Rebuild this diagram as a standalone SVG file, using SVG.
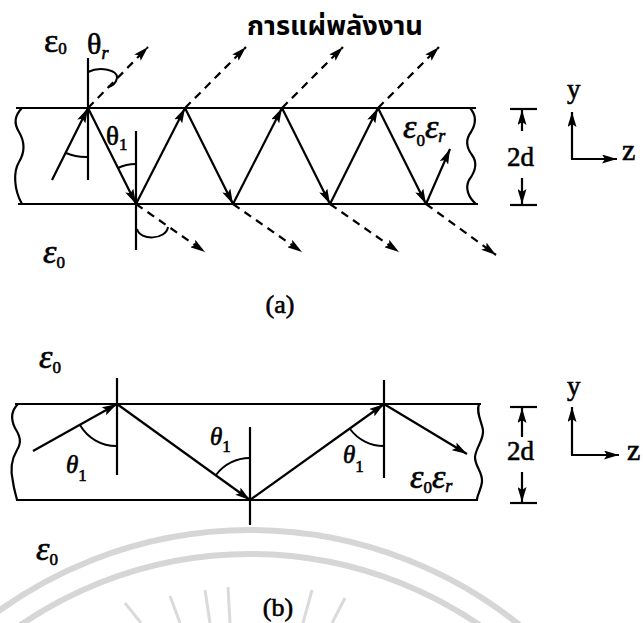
<svg xmlns="http://www.w3.org/2000/svg" width="643" height="623" viewBox="0 0 643 623">
<style>
.ln{stroke:#000;stroke-width:2.2;fill:none}
.ar{stroke:#000;stroke-width:2.2;fill:none;marker-end:url(#ah)}
.da{stroke:#000;stroke-width:2.2;fill:none;stroke-dasharray:8 6;marker-end:url(#ah)}
.arc{stroke:#000;stroke-width:2;fill:none}
.t{font-family:"Liberation Serif","Times New Roman",serif;fill:#000;stroke:#000;stroke-width:0.6}
.ti{font-family:"Liberation Serif","Times New Roman",serif;font-style:italic;fill:#000;stroke:#000;stroke-width:0.6}
.wm{stroke:#d6d6d6;fill:none}
</style>
<defs>
<marker id="ah" viewBox="0 0 15 9" refX="15" refY="4.5" markerWidth="15" markerHeight="9" orient="auto" markerUnits="userSpaceOnUse">
<path d="M0,0 L15,4.5 L0,9 L3,4.5 z" fill="#000"/>
</marker>
</defs>
<rect width="643" height="623" fill="#fff"/>
<g id="watermark">
<circle class="wm" cx="250" cy="960" r="430" stroke-width="6"/>
<circle class="wm" cx="250" cy="960" r="406" stroke-width="6"/>
<g stroke="#dadada" stroke-width="3">
<line x1="125" y1="603" x2="141" y2="623"/>
<line x1="170" y1="596" x2="180" y2="623"/>
<line x1="205" y1="590" x2="210" y2="623"/>
<line x1="228" y1="587" x2="230" y2="623"/>
<line x1="312" y1="590" x2="303" y2="623"/>
<line x1="345" y1="598" x2="332" y2="623"/>
</g>
</g>
<g id="slab-a">
<line class="ln" x1="16" y1="108" x2="476" y2="108"/>
<line class="ln" x1="18" y1="204" x2="478" y2="204"/>
<path class="ln" d="M22,108 C14,116 14,124 19,132 C25,142 25,152 19,162 C13,172 14,190 22,204"/>
<path class="ln" d="M470,108 C477,116 476,124 471,132 C465,140 466,147 472,155 C478,163 475,172 469,180 C465,188 468,197 476,204"/>
</g>
<g id="normals-a">
<line class="ln" x1="88" y1="58" x2="88" y2="180"/>
<line class="ln" x1="136" y1="131" x2="136" y2="250"/>
</g>
<g id="connectors-a">
<line class="ar" x1="52" y1="180" x2="88" y2="108"/>
<line class="ar" x1="88" y1="108" x2="136" y2="204"/>
<line class="ar" x1="136" y1="204" x2="185" y2="108"/>
<line class="ar" x1="185" y1="108" x2="233" y2="204"/>
<line class="ar" x1="233" y1="204" x2="282" y2="108"/>
<line class="ar" x1="282" y1="108" x2="330" y2="204"/>
<line class="ar" x1="330" y1="204" x2="378" y2="108"/>
<line class="ar" x1="378" y1="108" x2="426" y2="204"/>
<line class="ar" x1="426" y1="204" x2="450" y2="149"/>
<line class="da" x1="88" y1="108" x2="148" y2="47"/>
<line class="da" x1="185" y1="108" x2="246" y2="47"/>
<line class="da" x1="282" y1="108" x2="343" y2="47"/>
<line class="da" x1="378" y1="108" x2="439" y2="47"/>
<line class="da" x1="136" y1="204" x2="205" y2="252"/>
<line class="da" x1="233" y1="204" x2="302" y2="252"/>
<line class="da" x1="330" y1="204" x2="399" y2="252"/>
<line class="da" x1="426" y1="204" x2="496" y2="255"/>
</g>
<g id="angles-a">
<path class="arc" d="M88,72 C100,66 118,70 117,78 C116,83 112,86 108,87"/>
<path class="arc" d="M66,153 A50,50 0 0 0 88,157"/>
<path class="arc" d="M118,168 A40,40 0 0 1 136,164"/>
<path class="arc" d="M137,229 C140,241 166,240 168,227"/>
</g>
<g id="labels-a">
<text class="t" x="44" y="52" font-size="34">ε<tspan font-size="17" dy="2">0</tspan></text>
<text class="t" x="87" y="54" font-size="30">θ<tspan class="ti" font-size="18" dy="5">r</tspan></text>
<text class="t" x="106" y="145" font-size="27">θ<tspan font-size="17" dy="5">1</tspan></text>
<text class="ti" x="43" y="263" font-size="34">ε<tspan font-style="normal" font-size="17" dy="5">0</tspan></text>
<text class="ti" x="403" y="138" font-size="34">ε<tspan font-style="normal" font-size="17" dy="8">0</tspan><tspan dy="-8">ε</tspan><tspan font-size="18" dy="4">r</tspan></text>
<text x="247" y="35" font-family="'Noto Sans Thai','Noto Sans','DejaVu Sans',sans-serif" font-weight="bold" font-size="26" textLength="176" lengthAdjust="spacingAndGlyphs">การแผ่พลังงาน</text>
<text class="t" x="280" y="313" font-size="26" text-anchor="middle">(a)</text>
</g>
<g id="dim-a">
<line class="ln" x1="510" y1="109" x2="537" y2="109"/>
<line class="ln" x1="510" y1="205" x2="537" y2="205"/>
<line class="ar" x1="522" y1="131" x2="522" y2="110"/>
<line class="ar" x1="522" y1="178" x2="522" y2="204"/>
<text class="t" x="507" y="166" font-size="27">2d</text>
</g>
<g id="axes-a">
<line class="ar" x1="572" y1="159" x2="572" y2="112"/>
<line class="ar" x1="571" y1="159" x2="617" y2="159"/>
<text class="t" x="567" y="98" font-size="27">y</text>
<text class="t" x="622" y="160" font-size="30">z</text>
</g>
<g id="slab-b">
<line class="ln" x1="15" y1="404" x2="481" y2="404"/>
<line class="ln" x1="16" y1="500" x2="478" y2="500"/>
<path class="ln" d="M18,404 C10,412 11,420 15,428 C20,436 22,442 17,450 C11,460 10,470 13,482 C14,490 16,495 17,500"/>
<path class="ln" d="M479,404 C476,412 481,420 483,430 C484,440 476,447 475,457 C475,467 483,472 482,482 C481,490 477,495 477,500"/>
</g>
<g id="normals-b">
<line class="ln" x1="117" y1="378" x2="117" y2="475"/>
<line class="ln" x1="250" y1="427" x2="250" y2="525"/>
<line class="ln" x1="384" y1="380" x2="384" y2="478"/>
</g>
<g id="connectors-b">
<line class="ar" x1="33" y1="451" x2="117" y2="404"/>
<line class="ar" x1="117" y1="404" x2="250" y2="500"/>
<line class="ar" x1="250" y1="500" x2="384" y2="404"/>
<line class="ar" x1="384" y1="404" x2="467" y2="454"/>
</g>
<g id="angles-b">
<path class="arc" d="M80,425 A42,42 0 0 0 117,446"/>
<path class="arc" d="M216,475 A42,42 0 0 1 250,458"/>
<path class="arc" d="M350,429 A42,42 0 0 0 384,446"/>
</g>
<g id="labels-b">
<text class="ti" x="39" y="368" font-size="34">ε<tspan font-style="normal" font-size="17" dy="5">0</tspan></text>
<text class="ti" x="36" y="560" font-size="34">ε<tspan font-style="normal" font-size="17" dy="5">0</tspan></text>
<text class="ti" x="66" y="473" font-size="25">θ<tspan font-style="normal" font-size="17" dy="8">1</tspan></text>
<text class="ti" x="210" y="445" font-size="25">θ<tspan font-style="normal" font-size="17" dy="7">1</tspan></text>
<text class="ti" x="343" y="463" font-size="25">θ<tspan font-style="normal" font-size="17" dy="9">1</tspan></text>
<text class="ti" x="410" y="488" font-size="34">ε<tspan font-style="normal" font-size="17" dy="5">0</tspan><tspan dy="-5">ε</tspan><tspan font-size="18" dy="4">r</tspan></text>
<text class="t" x="278" y="616" font-size="26" text-anchor="middle">(b)</text>
</g>
<g id="dim-b">
<line class="ln" x1="510" y1="407" x2="537" y2="407"/>
<line class="ln" x1="510" y1="503" x2="537" y2="503"/>
<line class="ar" x1="522" y1="437" x2="522" y2="408"/>
<line class="ar" x1="522" y1="472" x2="522" y2="502"/>
<text class="t" x="507" y="460" font-size="27">2d</text>
</g>
<g id="axes-b">
<line class="ar" x1="572" y1="455" x2="572" y2="407"/>
<line class="ar" x1="571" y1="455" x2="619" y2="455"/>
<text class="t" x="567" y="395" font-size="27">y</text>
<text class="t" x="627" y="460" font-size="30">z</text>
</g>
</svg>
